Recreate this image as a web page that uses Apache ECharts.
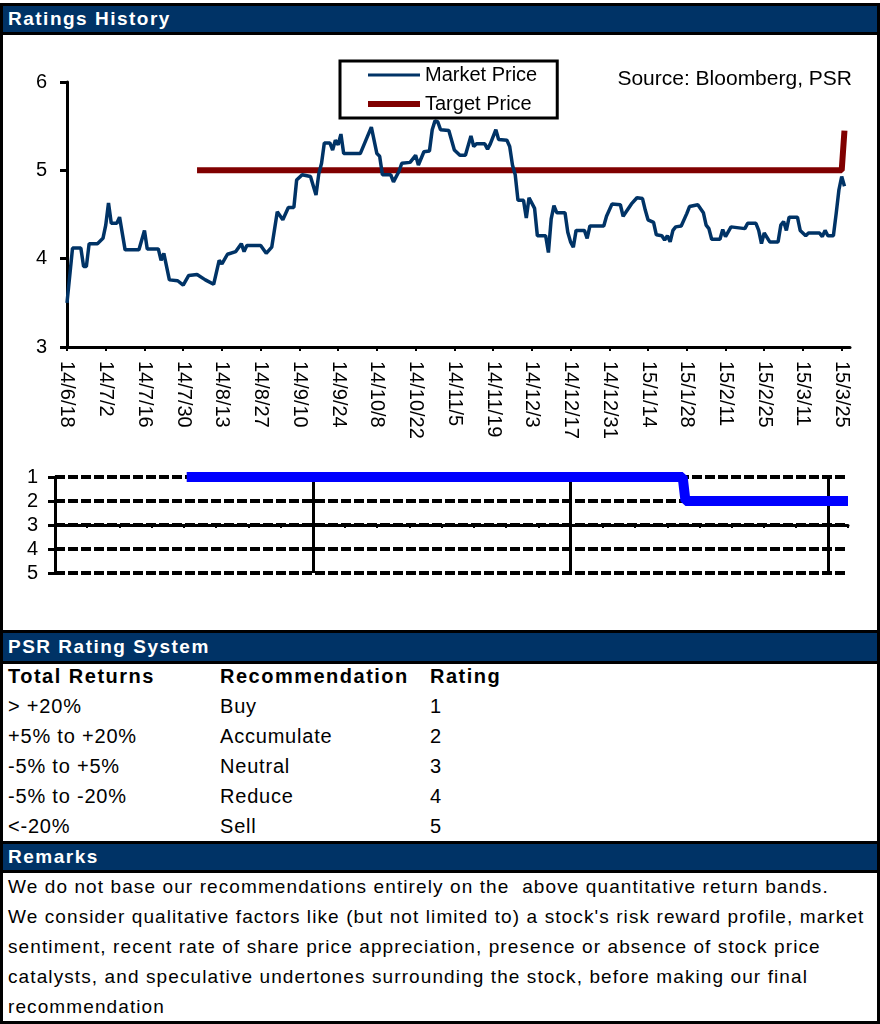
<!DOCTYPE html>
<html>
<head>
<meta charset="utf-8">
<title>Ratings History</title>
<script src="https://cdn.jsdelivr.net/npm/echarts@6/dist/echarts.min.js"></script>
<style>
  html, body { margin: 0; padding: 0; background: #fff; }
  body { width: 880px; height: 1024px; position: relative; overflow: hidden;
         font-family: "Liberation Sans", Arial, sans-serif; color: #000; }
  .frame { position: absolute; left: 0; top: 3px; width: 880px; height: 1021px;
           border: 3px solid #000; box-sizing: border-box; }
  .bar { position: absolute; left: 0; width: 880px; background: #003366;
         border: 3px solid #000; box-sizing: border-box; color: #fff;
         font-weight: bold; font-size: 19px; letter-spacing: 1.5px;
         padding-left: 5px; white-space: nowrap; }
  .row { position: absolute; left: 0; width: 880px; height: 30px; line-height: 30px;
         font-size: 20px; letter-spacing: 0.8px; white-space: nowrap; }
  .row span { position: absolute; top: 0; }
  .row.head { font-weight: bold; letter-spacing: 1.5px; }
  .c1 { left: 8px; } .c2 { left: 220px; } .c3 { left: 430px; }
  .remarks { position: absolute; left: 8px; top: 872px; width: 868px;
             font-size: 19px; letter-spacing: 1.1px; line-height: 30px; white-space: nowrap; }
  #chart { position: absolute; left: 0; top: 0; width: 880px; height: 630px; z-index: 2; }
</style>
</head>
<body>
<div class="frame"></div>
<div class="bar" style="top:3px;height:32px;line-height:26px;">Ratings History</div>
<div id="chart"></div>

<div class="bar" style="top:630px;height:34px;line-height:28px;">PSR Rating System</div>
<div class="row head" style="top:661px"><span class="c1">Total Returns</span><span class="c2">Recommendation</span><span class="c3">Rating</span></div>
<div class="row" style="top:691px"><span class="c1">&gt; +20%</span><span class="c2">Buy</span><span class="c3">1</span></div>
<div class="row" style="top:721px"><span class="c1">+5% to +20%</span><span class="c2">Accumulate</span><span class="c3">2</span></div>
<div class="row" style="top:751px"><span class="c1">-5% to +5%</span><span class="c2">Neutral</span><span class="c3">3</span></div>
<div class="row" style="top:781px"><span class="c1">-5% to -20%</span><span class="c2">Reduce</span><span class="c3">4</span></div>
<div class="row" style="top:811px"><span class="c1">&lt;-20%</span><span class="c2">Sell</span><span class="c3">5</span></div>

<div class="bar" style="top:841px;height:32px;line-height:26px;">Remarks</div>
<div class="remarks">
We do not base our recommendations entirely on the&nbsp; above quantitative return bands.<br>
We consider qualitative factors like (but not limited to) a stock's risk reward profile, market<br>
sentiment, recent rate of share price appreciation, presence or absence of stock price<br>
catalysts, and speculative undertones surrounding the stock, before making our final<br>
recommendation
</div>

<script>
// axis labels, one every 14 days from 2014-06-18
const xTickLabels = ['14/6/18', '14/7/2', '14/7/16', '14/7/30', '14/8/13', '14/8/27', '14/9/10',
  '14/9/24', '14/10/8', '14/10/22', '14/11/5', '14/11/19', '14/12/3', '14/12/17', '14/12/31',
  '15/1/14', '15/1/28', '15/2/11', '15/2/25', '15/3/11', '15/3/25']

const priceDates = [
  '2014-06-18', '2014-06-20', '2014-06-23', '2014-06-24', '2014-06-25', '2014-06-26', '2014-06-29',
  '2014-07-01', '2014-07-02', '2014-07-03', '2014-07-04', '2014-07-06', '2014-07-07', '2014-07-09',
  '2014-07-14', '2014-07-16', '2014-07-17', '2014-07-21', '2014-07-22', '2014-07-23', '2014-07-25',
  '2014-07-28', '2014-07-30', '2014-08-01', '2014-08-04', '2014-08-07', '2014-08-10', '2014-08-12',
  '2014-08-13', '2014-08-15', '2014-08-18', '2014-08-20', '2014-08-21', '2014-08-22', '2014-08-27',
  '2014-08-29', '2014-08-31', '2014-09-02', '2014-09-04', '2014-09-06', '2014-09-08', '2014-09-09',
  '2014-09-11', '2014-09-14', '2014-09-16', '2014-09-17', '2014-09-18', '2014-09-19', '2014-09-21',
  '2014-09-22', '2014-09-23', '2014-09-24', '2014-09-25', '2014-09-26', '2014-10-02', '2014-10-04',
  '2014-10-06', '2014-10-08', '2014-10-09', '2014-10-10', '2014-10-13', '2014-10-14', '2014-10-16',
  '2014-10-17', '2014-10-20', '2014-10-22', '2014-10-23', '2014-10-25', '2014-10-27', '2014-10-28',
  '2014-10-29', '2014-10-30', '2014-10-31', '2014-11-03', '2014-11-05', '2014-11-07', '2014-11-09',
  '2014-11-11', '2014-11-12', '2014-11-13', '2014-11-16', '2014-11-17', '2014-11-18', '2014-11-20',
  '2014-11-21', '2014-11-24', '2014-11-25', '2014-11-26', '2014-11-27', '2014-11-28', '2014-11-30',
  '2014-12-01', '2014-12-02', '2014-12-04', '2014-12-05', '2014-12-08', '2014-12-09', '2014-12-10',
  '2014-12-11', '2014-12-12', '2014-12-15', '2014-12-16', '2014-12-17', '2014-12-18', '2014-12-19',
  '2014-12-22', '2014-12-23', '2014-12-24', '2014-12-29', '2014-12-30', '2015-01-01', '2015-01-04',
  '2015-01-05', '2015-01-08', '2015-01-10', '2015-01-12', '2015-01-13', '2015-01-14', '2015-01-16',
  '2015-01-17', '2015-01-19', '2015-01-20', '2015-01-21', '2015-01-22', '2015-01-23', '2015-01-24',
  '2015-01-26', '2015-01-28', '2015-01-29', '2015-02-01', '2015-02-03', '2015-02-04', '2015-02-05',
  '2015-02-06', '2015-02-09', '2015-02-10', '2015-02-11', '2015-02-13', '2015-02-18', '2015-02-19',
  '2015-02-22', '2015-02-23', '2015-02-24', '2015-02-25', '2015-02-27', '2015-03-02', '2015-03-03',
  '2015-03-04', '2015-03-05', '2015-03-06', '2015-03-09', '2015-03-10', '2015-03-12', '2015-03-13',
  '2015-03-17', '2015-03-18', '2015-03-19', '2015-03-20', '2015-03-22', '2015-03-23', '2015-03-24',
  '2015-03-25', '2015-03-26']

const priceValues = [
  3.50, 4.12, 4.12, 3.91, 3.91, 4.17, 4.17,
  4.23, 4.38, 4.63, 4.40, 4.40, 4.47, 4.10,
  4.10, 4.32, 4.11, 4.11, 3.98, 4.06, 3.76,
  3.75, 3.70, 3.81, 3.82, 3.76, 3.71, 3.98,
  3.94, 4.05, 4.08, 4.17, 4.08, 4.15, 4.15,
  4.06, 4.13, 4.53, 4.44, 4.58, 4.58, 4.89,
  4.95, 4.93, 4.72, 4.96, 5.08, 5.31, 5.31,
  5.23, 5.34, 5.29, 5.41, 5.19, 5.19, 5.34,
  5.49, 5.19, 5.16, 4.95, 4.95, 4.87, 4.99,
  5.08, 5.09, 5.17, 5.06, 5.21, 5.22, 5.46,
  5.56, 5.55, 5.46, 5.45, 5.23, 5.17, 5.17,
  5.39, 5.27, 5.30, 5.30, 5.24, 5.30, 5.46,
  5.35, 5.34, 5.27, 5.06, 4.95, 4.66, 4.66,
  4.46, 4.69, 4.57, 4.26, 4.26, 4.07, 4.45,
  4.60, 4.52, 4.52, 4.30, 4.19, 4.13, 4.32,
  4.32, 4.23, 4.37, 4.37, 4.48, 4.62, 4.61,
  4.48, 4.62, 4.69, 4.68, 4.55, 4.44, 4.41,
  4.27, 4.26, 4.21, 4.26, 4.19, 4.32, 4.36,
  4.37, 4.51, 4.59, 4.61, 4.52, 4.38, 4.34,
  4.22, 4.22, 4.33, 4.25, 4.36, 4.34, 4.40,
  4.40, 4.32, 4.17, 4.29, 4.19, 4.19, 4.38,
  4.42, 4.32, 4.47, 4.47, 4.32, 4.26, 4.29,
  4.29, 4.25, 4.32, 4.26, 4.26, 4.51, 4.78,
  4.93, 4.82]

const targetDates = ['2014-08-04', '2015-03-25', '2015-03-26']
const targetValues = [5.0, 5.0, 5.45]

const ratingDates = ['2014-08-04', '2015-01-28', '2015-01-29', '2015-03-28']
const ratingValues = [1, 1, 2, 2]

const START = Date.UTC(2014, 5, 18)
const LAST_DAY = 283

// days since the first label
function dayIndex(s) {
  const [y, m, d] = s.split('-').map(Number)
  return Math.round((Date.UTC(y, m - 1, d) - START) / 86400000)
}

const toPairs = (dates, values) => dates.map((d, i) => [dayIndex(d), values[i]])

const black = '#000'
const navy = '#003366'
const maroon = '#800000'
const font = '"Liberation Sans", Arial, sans-serif'

const chart = echarts.init(document.getElementById('chart'))

chart.setOption({
  animation: false,
  textStyle: { fontFamily: font, color: black },
  grid: [
    { left: 67, top: 82, width: 783, height: 265 },
    { left: 55, top: 477, width: 793, height: 96 },
  ],
  legend: {
    left: 340,
    top: 61,
    orient: 'vertical',
    data: [
      { name: 'Market Price', lineStyle: { width: 3, color: navy } },
      { name: 'Target Price', lineStyle: { width: 6, color: maroon } },
    ],
    itemWidth: 52,
    itemHeight: 14,
    itemGap: 9,
    itemStyle: { opacity: 0 },
    padding: [4, 20, 4, 25],
    borderColor: black,
    borderWidth: 3,
    textStyle: { fontSize: 20, color: black, fontFamily: font },
  },
  graphic: [
    {
      type: 'text',
      right: 28,
      top: 69,
      style: { text: 'Source: Bloomberg, PSR', fontSize: 21, fill: black, fontFamily: font },
    },
  ],
  xAxis: [
    {
      type: 'value',
      gridIndex: 0,
      min: 0,
      max: LAST_DAY,
      interval: 14,
      axisLine: { show: true, onZero: false, lineStyle: { color: black, width: 3 } },
      axisTick: { show: true, length: 4, lineStyle: { color: black, width: 2 } },
      axisLabel: {
        rotate: -90,
        margin: 14,
        fontSize: 20,
        color: black,
        showMaxLabel: false,
        formatter: (v) => {
          const i = v / 14
          return Number.isInteger(i) ? (xTickLabels[i] || '') : ''
        },
      },
      splitLine: { show: false },
    },
    {
      // vertical grid lines of the rating panel
      type: 'value',
      gridIndex: 1,
      position: 'top',
      min: 0,
      max: LAST_DAY,
      interval: 92,
      axisLine: { show: false },
      axisTick: { show: false },
      axisLabel: { show: false },
      splitLine: {
        show: true,
        showMinLine: false,
        showMaxLine: false,
        lineStyle: { color: black, width: 3 },
      },
    },
    {
      // axis crossing at rating 3
      type: 'value',
      gridIndex: 1,
      position: 'bottom',
      offset: -48,
      min: 0,
      max: LAST_DAY,
      interval: 11.5,
      axisLine: { show: true, onZero: false, lineStyle: { color: black, width: 3 } },
      axisTick: { show: true, length: 3, lineStyle: { color: black, width: 2 } },
      axisLabel: { show: false },
      splitLine: { show: false },
    },
  ],
  yAxis: [
    {
      type: 'value',
      gridIndex: 0,
      min: 3,
      max: 6,
      interval: 1,
      axisLine: { show: true, lineStyle: { color: black, width: 3 } },
      axisTick: { show: true, length: 7, lineStyle: { color: black, width: 3 } },
      axisLabel: { margin: 20, fontSize: 20, color: black },
      splitLine: { show: false },
    },
    {
      type: 'value',
      gridIndex: 1,
      min: 1,
      max: 5,
      interval: 1,
      inverse: true,
      axisLine: { show: true, lineStyle: { color: black, width: 3 } },
      axisTick: { show: true, length: 7, lineStyle: { color: black, width: 3 } },
      axisLabel: { margin: 17, fontSize: 20, color: black },
      splitLine: { show: true, lineStyle: { color: black, width: 4, type: [10, 3] } },
    },
  ],
  series: [
    {
      name: 'Market Price',
      type: 'line',
      xAxisIndex: 0,
      yAxisIndex: 0,
      data: toPairs(priceDates, priceValues),
      symbol: 'none',
      lineStyle: { color: navy, width: 3.5 },
      itemStyle: { color: navy },
      z: 3,
    },
    {
      name: 'Target Price',
      type: 'line',
      xAxisIndex: 0,
      yAxisIndex: 0,
      data: toPairs(targetDates, targetValues),
      symbol: 'none',
      lineStyle: { color: maroon, width: 6 },
      itemStyle: { color: maroon },
      z: 2,
    },
    {
      name: 'Rating',
      type: 'line',
      xAxisIndex: 1,
      yAxisIndex: 1,
      data: toPairs(ratingDates, ratingValues),
      symbol: 'none',
      lineStyle: { color: '#0000ff', width: 10 },
      itemStyle: { color: '#0000ff' },
      z: 3,
    },
  ],
})
</script>
</body>
</html>
